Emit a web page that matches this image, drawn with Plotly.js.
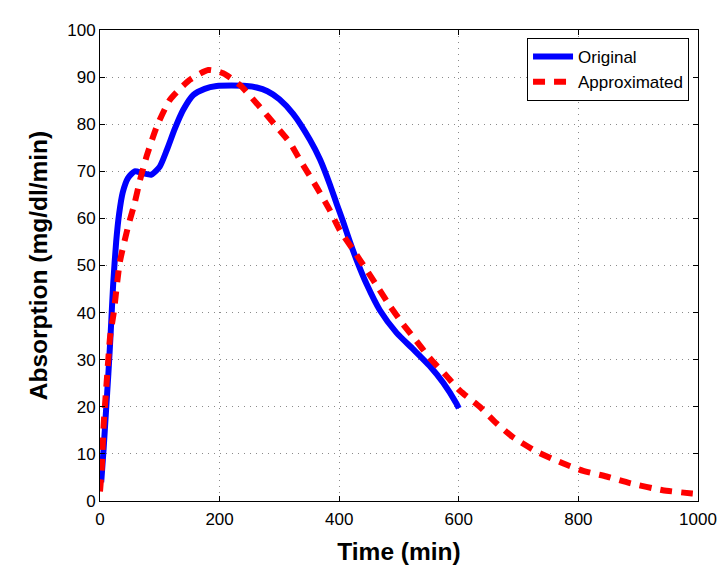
<!DOCTYPE html>
<html>
<head>
<meta charset="utf-8">
<script src="https://cdn.plot.ly/plotly-3.0.1.min.js"></script>
<style>html,body{margin:0;padding:0;background:#fff;}#chart{width:724px;height:579px;}</style>
</head>
<body>
<div id="chart"></div>
<script>
var originalTime = [2, 6, 10, 14, 18, 22, 27, 32, 38, 47, 58, 72, 86, 100, 112, 125, 139, 156, 175, 195, 220, 245, 262, 280, 300, 323, 351, 368, 385, 396, 406, 418, 429, 446, 468, 496, 524, 551, 574, 596, 600];
var originalValues = [4, 11, 19, 27, 36, 46, 55, 61, 65.5, 68.6, 70, 69.6, 69.3, 71, 74.6, 79, 83, 86.2, 87.5, 88.1, 88.2, 88.1, 87.8, 87, 85.3, 82.2, 76.7, 72.5, 67, 63, 59.5, 55, 51.2, 46, 40.5, 35.7, 32.2, 28.7, 25.1, 20.7, 19.7];

var approxTime = [0, 3, 6, 11, 17, 23, 33, 47, 58, 67, 78, 95, 117, 150, 181, 206, 234, 267, 295, 318, 334, 362, 384, 401, 423, 445, 465, 485, 507, 529, 551, 577, 602, 635, 663, 690, 730, 774, 808, 847, 886, 941, 990, 1000];
var approxValues = [2, 7, 16, 25, 35, 40, 50.6, 58.3, 63.3, 68.2, 73.2, 79.5, 85.2, 89.4, 91.5, 90.8, 88.3, 83.7, 79.5, 76, 72.5, 66.7, 61.8, 57.5, 53.4, 49.2, 45.3, 41.4, 37.5, 34, 30.4, 26.9, 23.4, 20, 16.5, 13.6, 10.5, 8, 6.4, 5.2, 3.8, 2.3, 1.6, 1.5];

var xTicks = [0, 200, 400, 600, 800, 1000];
var yTicks = [0, 10, 20, 30, 40, 50, 60, 70, 80, 90, 100];

var FONT = 'Liberation Sans, Arial, Helvetica, sans-serif';

var traces = [
  {x: originalTime, y: originalValues, name: 'Original', type: 'scatter', mode: 'lines',
   line: {color: '#0000ff', width: 6, shape: 'spline', smoothing: 0.6}},
  {x: approxTime, y: approxValues, name: 'Approximated', type: 'scatter', mode: 'lines',
   line: {color: '#ff0000', width: 6, dash: '12px,9px', shape: 'spline', smoothing: 0.6}}
];

var axisCommon = {
  showline: true, linecolor: '#000', linewidth: 1, mirror: 'ticks',
  ticks: 'inside', ticklen: 5, tickcolor: '#000',
  showgrid: true, gridcolor: '#8a8a8a', gridwidth: 1, griddash: '1px,5px',
  zeroline: false,
  tickfont: {family: FONT, size: 17, color: '#000'}
};

var layout = {
  width: 724, height: 579,
  margin: {l: 100, r: 26, t: 30, b: 78},
  paper_bgcolor: '#fff', plot_bgcolor: '#fff',
  showlegend: true,
  xaxis: Object.assign({}, axisCommon, {
    range: [0, 1000], tickvals: xTicks, ticktext: xTicks.map(String),
    ticklabelstandoff: 3,
    title: {text: '<b>Time (min)</b>', font: {family: FONT, size: 24.5, color: '#000'}, standoff: 14}
  }),
  yaxis: Object.assign({}, axisCommon, {
    range: [0, 100], tickvals: yTicks, ticktext: yTicks.map(String),
    title: {text: '<b>Absorption (mg/dl/min)</b>', font: {family: FONT, size: 24.5, color: '#000'}, standoff: 12}
  }),
  legend: {
    x: 0.985, y: 0.983, xanchor: 'right', yanchor: 'top',
    bgcolor: '#fff', bordercolor: '#000', borderwidth: 1,
    font: {family: FONT, size: 17, color: '#000'},
    tracegroupgap: 0, itemwidth: 40
  }
};

Plotly.newPlot('chart', traces, layout, {displayModeBar: false, staticPlot: true});
</script>
</body>
</html>
